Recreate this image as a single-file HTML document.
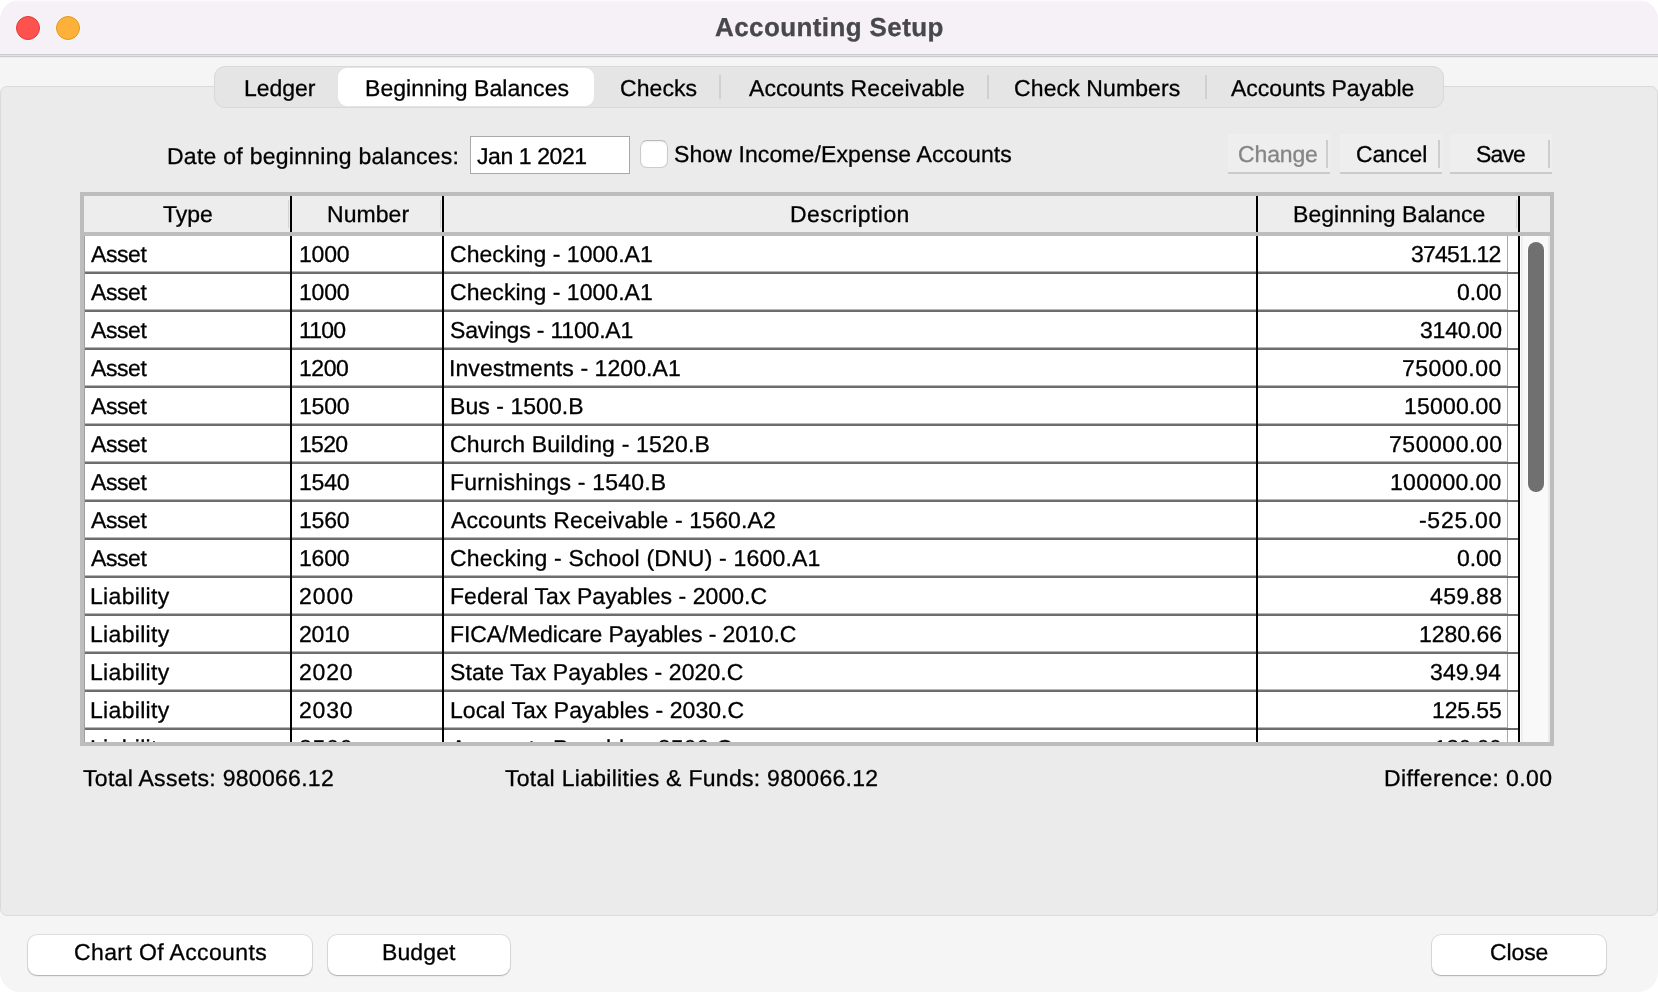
<!DOCTYPE html><html><head><meta charset="utf-8"><title>Accounting Setup</title><style>
*{box-sizing:border-box;margin:0;padding:0}
html,body{width:1658px;height:992px;overflow:hidden;background:#fff}
body{font-family:"Liberation Sans",sans-serif;font-size:23px;color:#000;position:relative}
.abs,.t{position:absolute}
.t{white-space:nowrap;line-height:30px;height:30px}
#win{position:absolute;left:0;top:0;width:1658px;height:992px;background:#f5f5f5;border-radius:20px;overflow:hidden}
.t{will-change:transform;-webkit-text-stroke:0.3px;text-rendering:geometricPrecision}
#titlebar{position:absolute;left:0;top:0;width:1658px;height:53px;background:linear-gradient(#fbf9fc 0 1px,#f8f5f9 1px 2px,#f5f1f7 2px)}
#tline{position:absolute;left:0;top:53px;width:1658px;height:5px;background:linear-gradient(#f8f3fa 0 1px,#ccc8cf 1px 2px,#e4e1e6 2px 3px,#cccccc 3px 4px,#ececec 4px 5px)}
.dot{position:absolute;width:24px;height:24px;border-radius:50%;top:16px;box-shadow:0 0 0 1px rgba(255,255,255,0.45)}
#panel{position:absolute;left:0;top:86px;width:1658px;height:830px;background:#ebebeb;border:1px solid #dadada;border-radius:7px}
#tabs{position:absolute;left:214px;top:66px;width:1230px;height:42px;background:#e5e5e5;border:1px solid #d8d8d8;border-radius:11px}
#seltab{position:absolute;left:338px;top:68px;width:256px;height:38px;background:#fff;border-radius:9px}
.tsep{position:absolute;top:75px;width:2px;height:24px;background:#d0d0d0}
#date{position:absolute;left:470px;top:136px;width:160px;height:38px;background:#fff;border:1px solid #a9a9a9}
#cb{position:absolute;left:640px;top:140px;width:28px;height:28px;background:#fff;border:1px solid #cbcbcb;border-top-color:#b9b9b9;border-radius:7px;box-shadow:inset 0 1px 2px rgba(0,0,0,0.07)}
.fbtn{position:absolute;top:134px;width:102px;height:40px;background:#eeeeee;border-bottom:2px solid #cbcbcb}
.fbtn i{position:absolute;right:2px;top:6px;width:2px;height:28px;background:#cdcdcd}
#tbl{position:absolute;left:80px;top:192px;width:1474px;height:554px;background:#bdbdbd}
#thead{position:absolute;left:84px;top:196px;width:1466px;height:36px;background:#ededed}
#tbody{position:absolute;left:84px;top:236px;width:1436px;height:506px;background:#fff}
#clip{position:absolute;left:0;top:236px;width:1658px;height:506px;overflow:hidden}
.vl{position:absolute;width:2px;background:#000}
.hd{position:absolute;top:200px;width:1px;height:28px;background:#d4d4d4}
.rs{position:absolute;left:84px;width:1423px;height:3px;background:linear-gradient(#b6b6b6 0 1px,#707070 1px 2px,#6a6a6a 2px 3px)}
.rs2{position:absolute;left:1507px;width:11px;height:2px;background:#6a6a6a}
#track{position:absolute;left:1520px;top:236px;width:30px;height:506px;background:linear-gradient(to right,#fdfdfd 0 1px,#ebebeb 1px 2px,#f2f2f2 2px 3px,#f7f7f7 3px 4px,#f9f9f9 4px 28px,#ebebeb 28px 30px)}
#thumb{position:absolute;left:1528px;top:242px;width:16px;height:250px;border-radius:8px;background:#707070;box-shadow:0 0 0 1px rgba(255,255,255,0.8)}
.bbtn{position:absolute;top:935px;height:40px;background:#fff;border-radius:9px;box-shadow:0 0 0 1px rgba(0,0,0,0.09),0 1px 1.5px rgba(0,0,0,0.22)}
</style></head><body>
<div id="win">
<div id="titlebar"></div><div id="tline"></div>
<div class="dot" style="left:16px;background:#fe524f;border:1px solid #e13a36"></div>
<div class="dot" style="left:56px;background:#fdb13a;border:1px solid #df9a1e"></div>
<div id="panel"></div>
<div id="tabs"></div><div id="seltab"></div>
<div class="tsep" style="left:719px"></div>
<div class="tsep" style="left:987px"></div>
<div class="tsep" style="left:1205px"></div>
<div id="date"></div><div id="cb"></div>
<div class="fbtn" style="left:1228px"><i></i></div>
<div class="fbtn" style="left:1340px"><i></i></div>
<div class="fbtn" style="left:1450px"><i></i></div>
<div id="tbl"></div><div id="thead"></div>
<div class="abs" style="left:1520px;top:196px;width:30px;height:36px;background:#ebebeb"></div>
<div id="tbody"></div>
<div id="clip">
<div class="t" style="left:91.25px;top:2.73px;letter-spacing:-0.408px;">Asset</div>
<div class="t" style="left:298.55px;top:2.73px;letter-spacing:-0.225px;">1000</div>
<div class="t" style="left:450.25px;top:2.73px;letter-spacing:0.046px;">Checking - 1000.A1</div>
<div class="t" style="left:1411.25px;top:2.73px;letter-spacing:-0.806px;">37451.12</div>
<div class="t" style="left:91.25px;top:40.73px;letter-spacing:-0.408px;">Asset</div>
<div class="t" style="left:298.55px;top:40.73px;letter-spacing:-0.225px;">1000</div>
<div class="t" style="left:450.25px;top:40.73px;letter-spacing:0.046px;">Checking - 1000.A1</div>
<div class="t" style="left:1457.00px;top:40.73px;letter-spacing:-0.074px;">0.00</div>
<div class="t" style="left:91.25px;top:78.73px;letter-spacing:-0.408px;">Asset</div>
<div class="t" style="left:298.55px;top:78.73px;letter-spacing:-0.822px;">1100</div>
<div class="t" style="left:450.25px;top:78.73px;letter-spacing:-0.185px;">Savings - 1100.A1</div>
<div class="t" style="left:1419.50px;top:78.73px;letter-spacing:-0.183px;">3140.00</div>
<div class="t" style="left:91.25px;top:116.73px;letter-spacing:-0.408px;">Asset</div>
<div class="t" style="left:298.55px;top:116.73px;letter-spacing:-0.475px;">1200</div>
<div class="t" style="left:449.25px;top:116.73px;letter-spacing:0.083px;">Investments - 1200.A1</div>
<div class="t" style="left:1402.25px;top:116.73px;letter-spacing:0.480px;">75000.00</div>
<div class="t" style="left:91.25px;top:154.73px;letter-spacing:-0.408px;">Asset</div>
<div class="t" style="left:298.55px;top:154.73px;letter-spacing:-0.225px;">1500</div>
<div class="t" style="left:450.25px;top:154.73px;letter-spacing:0.057px;">Bus - 1500.B</div>
<div class="t" style="left:1404.25px;top:154.73px;letter-spacing:0.194px;">15000.00</div>
<div class="t" style="left:91.25px;top:192.73px;letter-spacing:-0.408px;">Asset</div>
<div class="t" style="left:298.55px;top:192.73px;letter-spacing:-0.725px;">1520</div>
<div class="t" style="left:450.25px;top:192.73px;letter-spacing:0.180px;">Church Building - 1520.B</div>
<div class="t" style="left:1388.50px;top:192.73px;letter-spacing:0.540px;">750000.00</div>
<div class="t" style="left:91.25px;top:230.73px;letter-spacing:-0.408px;">Asset</div>
<div class="t" style="left:298.55px;top:230.73px;letter-spacing:-0.225px;">1540</div>
<div class="t" style="left:450.25px;top:230.73px;letter-spacing:0.204px;">Furnishings - 1540.B</div>
<div class="t" style="left:1390.25px;top:230.73px;letter-spacing:0.321px;">100000.00</div>
<div class="t" style="left:91.25px;top:268.73px;letter-spacing:-0.408px;">Asset</div>
<div class="t" style="left:298.55px;top:268.73px;letter-spacing:-0.225px;">1560</div>
<div class="t" style="left:451.25px;top:268.73px;letter-spacing:0.139px;">Accounts Receivable - 1560.A2</div>
<div class="t" style="left:1419.25px;top:268.73px;letter-spacing:0.714px;">-525.00</div>
<div class="t" style="left:91.25px;top:306.73px;letter-spacing:-0.408px;">Asset</div>
<div class="t" style="left:298.55px;top:306.73px;letter-spacing:-0.225px;">1600</div>
<div class="t" style="left:450.25px;top:306.73px;letter-spacing:0.187px;">Checking - School (DNU) - 1600.A1</div>
<div class="t" style="left:1457.00px;top:306.73px;letter-spacing:-0.074px;">0.00</div>
<div class="t" style="left:90.25px;top:344.73px;letter-spacing:0.318px;">Liability</div>
<div class="t" style="left:298.55px;top:344.73px;letter-spacing:0.942px;">2000</div>
<div class="t" style="left:450.25px;top:344.73px;letter-spacing:0.065px;">Federal Tax Payables - 2000.C</div>
<div class="t" style="left:1429.50px;top:344.73px;letter-spacing:0.339px;">459.88</div>
<div class="t" style="left:90.25px;top:382.73px;letter-spacing:0.318px;">Liability</div>
<div class="t" style="left:298.55px;top:382.73px;letter-spacing:-0.225px;">2010</div>
<div class="t" style="left:450.25px;top:382.73px;letter-spacing:-0.088px;">FICA/Medicare Payables - 2010.C</div>
<div class="t" style="left:1418.50px;top:382.73px;letter-spacing:-0.016px;">1280.66</div>
<div class="t" style="left:90.25px;top:420.73px;letter-spacing:0.318px;">Liability</div>
<div class="t" style="left:298.55px;top:420.73px;letter-spacing:0.775px;">2020</div>
<div class="t" style="left:450.25px;top:420.73px;letter-spacing:0.091px;">State Tax Payables - 2020.C</div>
<div class="t" style="left:1429.50px;top:420.73px;letter-spacing:0.139px;">349.94</div>
<div class="t" style="left:90.25px;top:458.73px;letter-spacing:0.318px;">Liability</div>
<div class="t" style="left:298.55px;top:458.73px;letter-spacing:0.775px;">2030</div>
<div class="t" style="left:450.25px;top:458.73px;letter-spacing:0.070px;">Local Tax Payables - 2030.C</div>
<div class="t" style="left:1431.75px;top:458.73px;letter-spacing:-0.111px;">125.55</div>
<div class="t" style="left:90.25px;top:496.73px;letter-spacing:0.318px;">Liability</div>
<div class="t" style="left:298.55px;top:496.73px;letter-spacing:0.775px;">2500</div>
<div class="t" style="left:451.25px;top:496.73px;letter-spacing:0.121px;">Accounts Payable - 2500.C</div>
<div class="t" style="left:1433.75px;top:496.73px;letter-spacing:-0.511px;">120.00</div>
<div class="abs" style="left:1507px;top:0;width:1px;height:506px;background:#a8a8a8"></div>
<div class="rs" style="top:35px"></div><div class="rs2" style="top:36px"></div>
<div class="rs" style="top:73px"></div><div class="rs2" style="top:74px"></div>
<div class="rs" style="top:111px"></div><div class="rs2" style="top:112px"></div>
<div class="rs" style="top:149px"></div><div class="rs2" style="top:150px"></div>
<div class="rs" style="top:187px"></div><div class="rs2" style="top:188px"></div>
<div class="rs" style="top:225px"></div><div class="rs2" style="top:226px"></div>
<div class="rs" style="top:263px"></div><div class="rs2" style="top:264px"></div>
<div class="rs" style="top:301px"></div><div class="rs2" style="top:302px"></div>
<div class="rs" style="top:339px"></div><div class="rs2" style="top:340px"></div>
<div class="rs" style="top:377px"></div><div class="rs2" style="top:378px"></div>
<div class="rs" style="top:415px"></div><div class="rs2" style="top:416px"></div>
<div class="rs" style="top:453px"></div><div class="rs2" style="top:454px"></div>
<div class="rs" style="top:491px"></div><div class="rs2" style="top:492px"></div>
<div class="rs" style="top:529px"></div><div class="rs2" style="top:530px"></div>
<div class="abs" style="left:84px;top:0;width:1px;height:506px;background:#a0a0a0"></div>
</div>
<div class="vl" style="left:290px;top:196px;height:36px"></div>
<div class="vl" style="left:290px;top:236px;height:506px"></div>
<div class="vl" style="left:442px;top:196px;height:36px"></div>
<div class="vl" style="left:442px;top:236px;height:506px"></div>
<div class="vl" style="left:1256px;top:196px;height:36px"></div>
<div class="vl" style="left:1256px;top:236px;height:506px"></div>
<div class="vl" style="left:1518px;top:196px;height:36px"></div>
<div class="vl" style="left:1518px;top:236px;height:506px"></div>
<div class="hd" style="left:288px"></div>
<div class="hd" style="left:440px"></div>
<div class="hd" style="left:1516px"></div>
<div id="track"></div><div id="thumb"></div>
<div class="bbtn" style="left:28px;width:284px"></div>
<div class="bbtn" style="left:328px;width:182px"></div>
<div class="bbtn" style="left:1432px;width:174px"></div>
<div class="t" style="left:715.25px;top:11.69px;letter-spacing:0.396px;font-weight:bold;font-size:26px;color:#48484a">Accounting Setup</div>
<div class="t" style="left:244.45px;top:72.73px;letter-spacing:-0.052px;">Ledger</div>
<div class="t" style="left:364.85px;top:72.73px;letter-spacing:0.040px;">Beginning Balances</div>
<div class="t" style="left:619.75px;top:72.73px;letter-spacing:0.061px;">Checks</div>
<div class="t" style="left:749.25px;top:72.73px;letter-spacing:0.056px;">Accounts Receivable</div>
<div class="t" style="left:1013.95px;top:72.73px;letter-spacing:0.118px;">Check Numbers</div>
<div class="t" style="left:1231.25px;top:72.73px;letter-spacing:-0.055px;">Accounts Payable</div>
<div class="t" style="left:166.75px;top:140.73px;letter-spacing:0.263px;">Date of beginning balances:</div>
<div class="t" style="left:476.95px;top:140.73px;letter-spacing:-0.414px;">Jan 1 2021</div>
<div class="t" style="left:673.75px;top:138.73px;letter-spacing:0.106px;">Show Income/Expense Accounts</div>
<div class="t" style="left:1238.15px;top:138.73px;letter-spacing:-0.135px;color:#858585">Change</div>
<div class="t" style="left:1356.25px;top:138.73px;letter-spacing:-0.057px;">Cancel</div>
<div class="t" style="left:1475.85px;top:138.73px;letter-spacing:-0.844px;">Save</div>
<div class="t" style="left:163.25px;top:198.73px;letter-spacing:-0.057px;">Type</div>
<div class="t" style="left:326.55px;top:198.73px;letter-spacing:0.051px;">Number</div>
<div class="t" style="left:790.45px;top:198.73px;letter-spacing:0.435px;">Description</div>
<div class="t" style="left:1292.55px;top:198.73px;letter-spacing:0.036px;">Beginning Balance</div>
<div class="t" style="left:83.25px;top:762.73px;letter-spacing:0.295px;">Total Assets: 980066.12</div>
<div class="t" style="left:505.25px;top:762.73px;letter-spacing:0.285px;">Total Liabilities &amp; Funds: 980066.12</div>
<div class="t" style="left:1384.05px;top:762.73px;letter-spacing:0.409px;">Difference: 0.00</div>
<div class="t" style="left:73.55px;top:936.73px;letter-spacing:0.381px;">Chart Of Accounts</div>
<div class="t" style="left:382.05px;top:936.73px;letter-spacing:0.119px;">Budget</div>
<div class="t" style="left:1490.05px;top:936.73px;letter-spacing:-0.128px;">Close</div>
</div></body></html>
